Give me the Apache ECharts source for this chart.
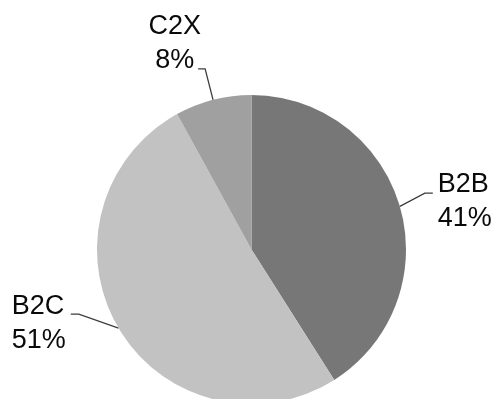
<!DOCTYPE html>
<html>
<head>
<meta charset="utf-8">
<script src="https://cdn.jsdelivr.net/npm/echarts@6/dist/echarts.min.js"></script>
<style>
  html, body { margin: 0; padding: 0; background: #ffffff; }
  #chart { width: 494px; height: 399px; }
</style>
</head>
<body>
<div id="chart"></div>
<script>
// Share of e-commerce volume by segment (percent)
const categories = ['B2B', 'B2C', 'C2X'];
const shares = [41, 51, 8];

// Per-slice appearance of slices, labels and leader lines
const sliceColors = ['#777777', '#c2c2c2', '#a0a0a0'];
const lineAlign = ['left', 'left', 'center'];
const leaderLength = [26, 2, 32];
const leaderLength2 = [8, 46, 7];
const leaderRise = [6, 15, 0];          // how far the leader's horizontal tail sits above its default level
const labelGap = [5, 5, -3];
const labelPadding = [[5, 0, 0, 0], [0, 0, 12, 0], [0, 0, 51, 0]];

const data = categories.map((name, i) => ({
  name: name,
  value: shares[i],
  itemStyle: { color: sliceColors[i] },
  label: {
    formatter: '{t|{b}}\n{t|{c}%}',
    padding: labelPadding[i],
    distanceToLabelLine: labelGap[i],
    rich: {
      t: {
        align: lineAlign[i],
        fontFamily: '"Liberation Sans", Arial, sans-serif',
        fontSize: 27,
        lineHeight: 34,
        color: '#0a0a0a'
      }
    }
  },
  labelLine: { length: leaderLength[i], length2: leaderLength2[i] }
}));

const chart = echarts.init(document.getElementById('chart'), null, { renderer: 'canvas' });
chart.setOption({
  animation: false,
  backgroundColor: '#ffffff',
  series: [{
    type: 'pie',
    center: [251.5, 249.5],
    radius: 154.5,
    startAngle: 90,
    clockwise: true,
    avoidLabelOverlap: false,
    label: {
      show: true,
      position: 'outside'
    },
    labelLine: {
      show: true,
      lineStyle: { color: '#3c3c3c', width: 1.3 }
    },
    // Lift the horizontal tail of a leader so it meets its label's first line
    labelLayout: function (p) {
      const pts = p.labelLinePoints;
      const rise = leaderRise[p.dataIndex];
      if (!pts || pts.length < 3 || !rise) return {};
      const a = pts[0], c = pts[2];
      const dir = c[0] < a[0] ? -1 : 1;
      return {
        labelLinePoints: [
          [a[0], a[1]],
          [c[0] - dir * 8, c[1] - rise],
          [c[0], c[1] - rise]
        ]
      };
    },
    emphasis: { disabled: true },
    data: data
  }]
});
</script>
</body>
</html>
